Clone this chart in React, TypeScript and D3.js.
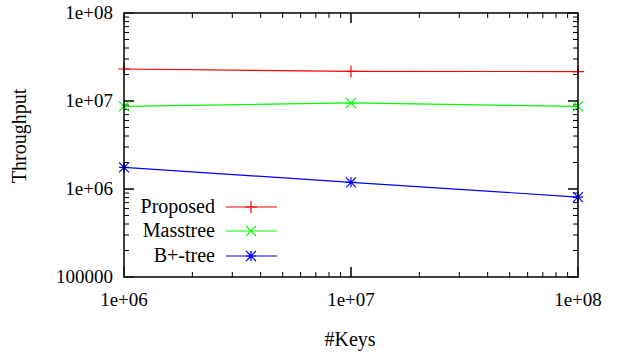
import { useEffect, useRef } from 'react';
import * as d3 from 'd3';

const keys = [1e6, 1e7, 1e8];
const seriesNames = ['Proposed', 'Masstree', 'B+-tree'];
const proposed = [2.31e7, 2.17e7, 2.16e7];
const masstree = [8.7e6, 9.5e6, 8.7e6];
const bptree = [1.76e6, 1.19e6, 8.1e5];
const seriesColors = ['#ff0000', '#00ff00', '#0000ff'];
const xTickLabels = ['1e+06', '1e+07', '1e+08'];
const yTicks = [1e5, 1e6, 1e7, 1e8];
const yTickLabels = ['100000', '1e+06', '1e+07', '1e+08'];

const W = 617;
const H = 354;
const FONT = 'Liberation Serif, Times New Roman, serif';

// gnuplot style point shapes: plus, cross, star
function marker(type: number, s: number): string {
  const p = d3.path();
  if (type === 0 || type === 2) {
    p.moveTo(-s, 0); p.lineTo(s, 0);
    p.moveTo(0, -s); p.lineTo(0, s);
  }
  if (type === 1 || type === 2) {
    p.moveTo(-s, -s); p.lineTo(s, s);
    p.moveTo(-s, s); p.lineTo(s, -s);
  }
  return p.toString();
}

export default function App() {
  const svgRef = useRef<SVGSVGElement>(null);

  useEffect(() => {
    if (!svgRef.current) return;
    const svg = d3.select(svgRef.current);
    svg.selectAll('*').remove();

    const left = 124, right = 578, top = 13, bottom = 277;

    const x = d3.scaleLog().domain([1e6, 1e8]).range([left, right]);
    const y = d3.scaleLog().domain([1e5, 1e8]).range([bottom, top]);

    svg.append('rect').attr('width', W).attr('height', H).attr('fill', '#fff');

    const axes = svg.append('g').attr('stroke', '#000').attr('stroke-width', 1);

    // minor + major ticks, mirrored on both sides
    const minorLen = 5, majorLen = 10;
    for (let d = 1e6; d < 1e8; d *= 10) {
      for (let m = 1; m <= 10; m++) {
        const xx = x(d * m);
        const len = m === 1 || m === 10 ? majorLen : minorLen;
        axes.append('line').attr('x1', xx).attr('x2', xx).attr('y1', bottom).attr('y2', bottom - len);
        axes.append('line').attr('x1', xx).attr('x2', xx).attr('y1', top).attr('y2', top + len);
      }
    }
    for (let d = 1e5; d < 1e8; d *= 10) {
      for (let m = 1; m <= 10; m++) {
        const yy = y(d * m);
        const len = m === 1 || m === 10 ? majorLen : minorLen;
        axes.append('line').attr('x1', left).attr('x2', left + len).attr('y1', yy).attr('y2', yy);
        axes.append('line').attr('x1', right).attr('x2', right - len).attr('y1', yy).attr('y2', yy);
      }
    }

    // tick labels
    keys.forEach((k, i) => {
      svg.append('text')
        .attr('x', x(k)).attr('y', 306)
        .attr('text-anchor', 'middle')
        .attr('font-family', FONT).attr('font-size', 19)
        .text(xTickLabels[i]);
    });
    yTicks.forEach((v, i) => {
      svg.append('text')
        .attr('x', 113).attr('y', y(v) + 6)
        .attr('text-anchor', 'end')
        .attr('font-family', FONT).attr('font-size', 19)
        .text(yTickLabels[i]);
    });

    // axis titles
    svg.append('text')
      .attr('transform', `translate(26,136) rotate(-90)`)
      .attr('text-anchor', 'middle')
      .attr('font-family', FONT).attr('font-size', 20)
      .text('Throughput');
    svg.append('text')
      .attr('x', 350).attr('y', 346)
      .attr('text-anchor', 'middle')
      .attr('font-family', FONT).attr('font-size', 20)
      .text('#Keys');

    const allSeries = [proposed, masstree, bptree];
    const line = d3.line<number>().x((_, i) => x(keys[i])).y(d => y(d));

    allSeries.forEach((vals, si) => {
      svg.append('path')
        .attr('d', line(vals))
        .attr('fill', 'none')
        .attr('stroke', seriesColors[si])
        .attr('stroke-width', 1.2);
      vals.forEach((v, i) => {
        svg.append('path')
          .attr('d', marker(si, si === 0 ? 6 : 5))
          .attr('transform', `translate(${x(keys[i])},${y(v)})`)
          .attr('fill', 'none')
          .attr('stroke', seriesColors[si])
          .attr('stroke-width', 1.2);
      });
    });

    // legend
    const legendRowY = [207, 231, 256];
    seriesNames.forEach((name, si) => {
      const ly = legendRowY[si];
      svg.append('text')
        .attr('x', 215).attr('y', ly + 6)
        .attr('text-anchor', 'end')
        .attr('font-family', FONT).attr('font-size', 20)
        .text(name);
      svg.append('line')
        .attr('x1', 226).attr('x2', 277).attr('y1', ly).attr('y2', ly)
        .attr('stroke', seriesColors[si]).attr('stroke-width', 1.2);
      svg.append('path')
        .attr('d', marker(si, si === 0 ? 6 : 5))
        .attr('transform', `translate(251,${ly})`)
        .attr('fill', 'none')
        .attr('stroke', seriesColors[si])
        .attr('stroke-width', 1.2);
    });

    // frame
    svg.append('rect')
      .attr('x', left).attr('y', top)
      .attr('width', right - left).attr('height', bottom - top)
      .attr('fill', 'none').attr('stroke', '#000').attr('stroke-width', 1.5);
  }, []);

  return (
    <svg ref={svgRef} width={W} height={H} style={{ position: 'absolute', left: 0, top: 0 }} />
  );
}
